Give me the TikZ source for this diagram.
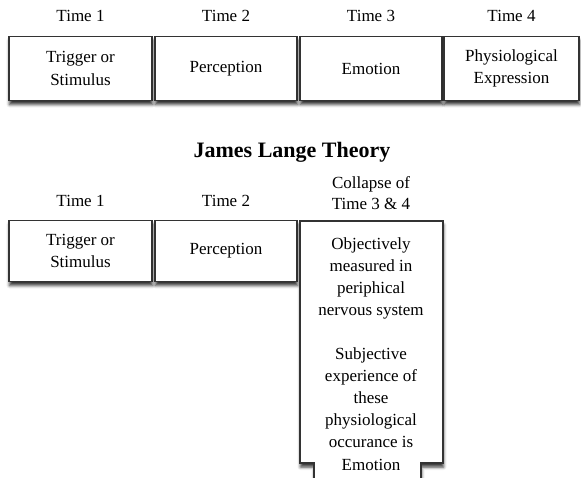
\documentclass[tikz,border=0pt]{standalone}
\usepackage{fontspec}
\setmainfont{Liberation Serif}
\usetikzlibrary{positioning, shadows.blur}

\begin{document}
\begin{tikzpicture}[x=1pt, y=-1pt,
    boxline/.style={draw=black!80, line width=1.4pt, fill=white,
      blur shadow={shadow xshift=0.5pt, shadow yshift=-4pt, shadow blur radius=3pt, shadow opacity=80}},
    stage/.style={rectangle, boxline, minimum height=64pt, align=center, inner sep=2pt,
      font=\fontsize{17}{22.5}\selectfont},
    timelabel/.style={align=center, font=\fontsize{17}{21}\selectfont}]
  \useasboundingbox (0,0) rectangle (581,477);

  % Top row
  \foreach \i/\x/\w/\txt in {1/80.5/143/{Trigger or\\Stimulus}, 2/226/142/Perception,
      3/371/142/Emotion, 4/511.5/135/{Physiological\\Expression}}
  {
    \node[stage, minimum width=\w pt] (top\i) at (\x,68.5) {\txt};
    \node[timelabel] (toptime\i) at (\x,16) {Time \i};
  }

  % Title
  \node[font=\bfseries\fontsize{22}{26}\selectfont] (title) at (292,152) {James Lange Theory};

  % Bottom row
  \foreach \i/\x/\w/\txt in {1/80.5/143/{Trigger or\\Stimulus}, 2/226/142/Perception}
  {
    \node[stage, minimum width=\w pt, minimum height=61pt] (low\i) at (\x,251) {\txt};
    \node[timelabel] (lowtime\i) at (\x,201) {Time \i};
  }
  \node[timelabel] (lowtime3) at (371,193) {Collapse of\\Time 3 \& 4};

  % Collapsed box
  \draw[boxline] (314,495) -- (314,463) -- (300,463) -- (300,221) -- (443,221)
    -- (443,463) -- (421,463) -- (421,495);
  \node[timelabel, font=\fontsize{17}{22.2}\selectfont, anchor=north] (collapse) at (371,234)
    {Objectively\\measured in\\periphical\\nervous system\\[21pt]Subjective\\experience of\\these\\physiological\\occurance is\\Emotion};
\end{tikzpicture}
\end{document}
